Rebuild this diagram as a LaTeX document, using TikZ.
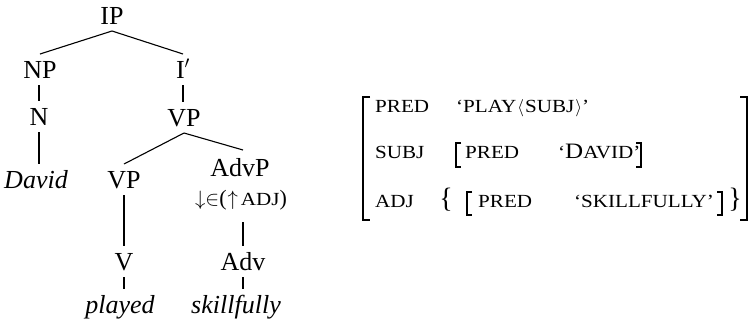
\documentclass[tikz,border=0pt]{standalone}
\usepackage{fontspec}
\setmainfont{Liberation Serif}
\newfontfamily\scfont[FakeStretch=1.14]{Liberation Serif}
\usetikzlibrary{calc}
\newcommand\fsc[1]{{\scfont\fontsize{18.5}{18.5}\selectfont #1}}
\begin{document}
\begin{tikzpicture}[x=1pt,y=-1pt,
  lab/.style={anchor=base, inner sep=0pt, outer ysep=7pt, text height=17pt, text depth=0pt,
              font=\fontsize{26}{26}\selectfont},
  word/.style={lab, font=\fontsize{26}{26}\selectfont\itshape},
  ann/.style={lab, text height=13pt, font=\fontsize{22}{22}\selectfont},
  avm/.style={anchor=base west, inner sep=0pt, font=\scfont\fontsize{18.5}{18.5}\selectfont},
  brace/.style={anchor=base, inner sep=0pt, font=\fontsize{28}{28}\selectfont},
  branch/.style={line width=1.1pt},
  obr/.style={line width=1.6pt},
  ibr/.style={line width=1.2pt}]
\useasboundingbox (0,0) rectangle (751,327);
% tree
\node[lab] (IP) at (112,24) {IP};
\node[lab] (NP) at (40,78) {NP};
\node[lab] (Ip) at (183,78) {I$'$};
\node[lab] (N) at (39,125) {N};
\node[lab] (VPu) at (184,126) {VP};
\node[word] (David) at (36,188) {David};
\node[lab] (VPl) at (124,188) {VP};
\node[lab] (AdvP) at (240,176) {AdvP};
\node[ann] (Ann) at (241,205) {$\downarrow\in$(\kern1pt$\uparrow$\kern3pt\fsc{ADJ})};
\node[lab] (V) at (124,270) {V};
\node[lab] (Adv) at (243,270) {Adv};
\node[word] (played) at (120,313) {played};
\node[word] (skill) at (236,313) {skillfully};
\draw[branch] (IP.south) -- (NP.north);
\draw[branch] (IP.south) -- (Ip.north);
\draw[branch] (NP.south -| N.north) -- (N.north);
\draw[branch] (Ip.south) -- (Ip.south |- VPu.north);
\draw[branch] (N.south) -- (N.south |- David.north);
\draw[branch] (VPu.south) -- (VPl.north);
\draw[branch] (VPu.south) -- ($(AdvP.north -| Adv.north)+(0,-2)$);
\draw[branch] (VPl.south) -- (V.north);
\draw[branch] ($(Ann.south -| Adv.north)+(0,10)$) -- (Adv.north);
\draw[branch] (V.south) -- (V.south |- played.north);
\draw[branch] (Adv.south) -- (Adv.south |- skill.north);
% AVM
\node[avm] (p1) at (375,112) {PRED};
\node[avm] (v1) at (456,112) {‘PLAY\kern1pt$\langle$\kern1pt SUBJ\kern1pt$\rangle$’};
\node[avm] (s2) at (375,158) {SUBJ};
\node[avm] (p2) at (465,158) {PRED};
\node[avm] (v2) at (558,158) {‘{\fontsize{22}{22}\selectfont D}AVID’};
\node[avm] (a3) at (375,207) {ADJ};
\node[brace] (lb) at (446,207) {\{};
\node[avm] (p3) at (478,207) {PRED};
\node[avm] (v3) at (574,207) {‘SKILLFULLY’};
\node[brace] (rb) at (735,207) {\}};
\draw[obr] (370,97) -- (363,97) -- (363,220) -- (370,220);
\draw[obr] (740,97) -- (747,97) -- (747,220) -- (740,220);
\draw[ibr] (461,143) -- (456,143) -- (456,167) -- (461,167);
\draw[ibr] (636,143) -- (641,143) -- (641,167) -- (636,167);
\draw[ibr] (472,192) -- (467,192) -- (467,215) -- (472,215);
\draw[ibr] (717,192) -- (722,192) -- (722,215) -- (717,215);
\end{tikzpicture}
\end{document}
